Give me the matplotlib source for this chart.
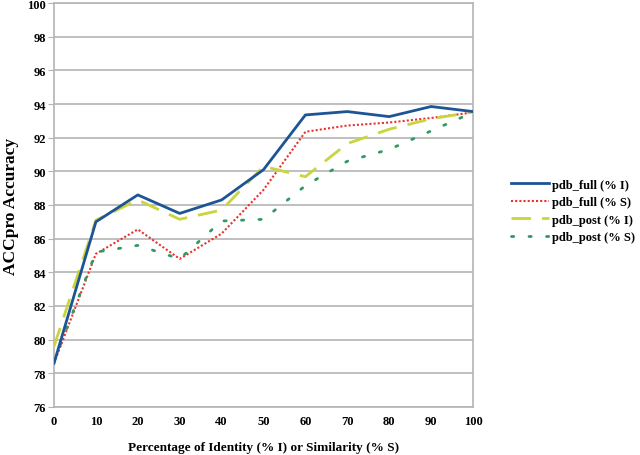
import matplotlib
matplotlib.use("Agg")
import matplotlib.pyplot as plt

x = [0, 10, 20, 30, 40, 50, 60, 70, 80, 90, 100]
full_I = [78.6, 87.0, 88.6, 87.5, 88.3, 90.1, 93.35, 93.55, 93.25, 93.85, 93.55]
full_S = [78.6, 85.1, 86.55, 84.8, 86.3, 88.9, 92.35, 92.72, 92.9, 93.17, 93.5]
post_I = [79.6, 87.1, 88.3, 87.15, 87.7, 90.3, 89.68, 91.65, 92.5, 93.12, 93.52]
post_S = [78.7, 85.2, 85.6, 84.8, 87.05, 87.15, 89.15, 90.6, 91.3, 92.4, 93.5]

labels = ["pdb_full (% I)", "pdb_full (% S)", "pdb_post (% I)", "pdb_post (% S)"]
yticks = list(range(76, 101, 2))
xticks = list(range(0, 101, 10))

plt.rcParams['font.family'] = ['Liberation Serif', 'DejaVu Serif']
plt.rcParams['font.weight'] = 'bold'

fig = plt.figure(figsize=(6.4, 4.56), dpi=100)
ax = fig.add_axes([54/640, 1 - 408/456, (473-54)/640, (408-4)/456])

ax.plot(x, full_I, color='#1d5496', lw=2.0, label=labels[0], zorder=4)
ax.plot(x, full_S, color='#e8332c', lw=1.5, ls=(0, (1, 1)), label=labels[1], zorder=3)
ax.plot(x, post_I, color='#c9d53c', lw=2.0, ls=(0, (7, 4)), label=labels[2], zorder=3)
ax.plot(x, post_S, color='#2f9a63', lw=2.0, ls=(0, (0.8, 5.5)), dash_capstyle='round', label=labels[3], zorder=3)

ax.set_xlim(0, 100)
ax.set_ylim(76, 100)
ax.set_xticks(xticks)
ax.set_yticks(yticks)
ax.grid(axis='y', color='#b4b4b4', lw=1.2)
ax.set_axisbelow(True)
for s in ax.spines.values():
    s.set_color('#b4b4b4')
    s.set_linewidth(1.2)
ax.tick_params(axis='y', length=4, color='#b4b4b4', labelsize=9, pad=2)
ax.tick_params(axis='x', length=0, labelsize=9, pad=6)
for t in ax.get_xticklabels() + ax.get_yticklabels():
    t.set_fontweight('bold')

ax.set_ylabel("ACCpro Accuracy", fontsize=12.5, fontweight='bold', labelpad=6)
ax.set_xlabel("Percentage of Identity (% I) or Similarity (% S)", fontsize=9.5, fontweight='bold', labelpad=10)

leg = fig.legend(loc='center left', bbox_to_anchor=(511/640, 1 - 212/456), frameon=False,
                 prop={'weight': 'bold', 'size': 9}, handlelength=3.0, handletextpad=0.25,
                 labelspacing=0.45, borderaxespad=0, borderpad=0)

fig.savefig("out.png", dpi=100)
